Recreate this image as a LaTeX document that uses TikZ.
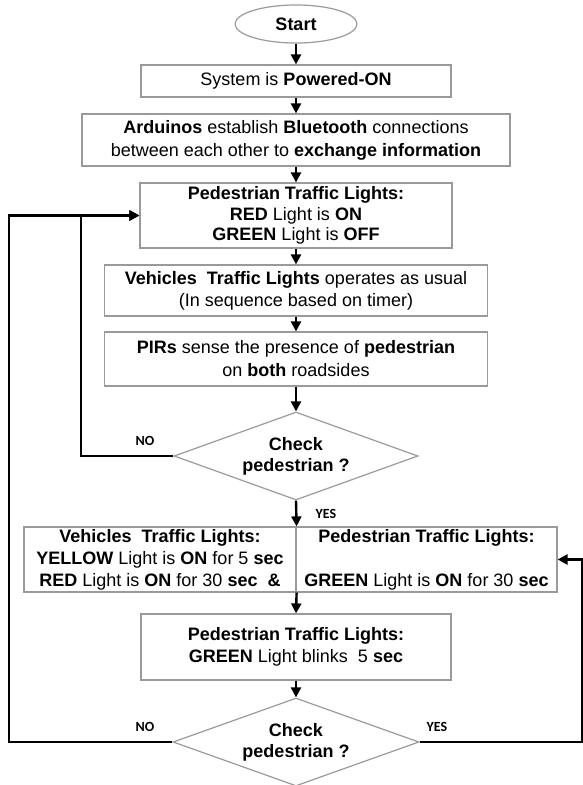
\documentclass[tikz,border=0pt]{standalone}
\usepackage{fontspec}
\setmainfont{Liberation Sans}
\newfontfamily\labfont{Carlito}
\usetikzlibrary{shapes.geometric,arrows.meta}
\definecolor{boxgray}{HTML}{9A9A9A}
\begin{document}
\begin{tikzpicture}[x=1pt,y=-1pt,
  box/.style={draw=boxgray,line width=1.2pt,inner sep=0pt,align=center,font=\fontsize{18}{22}\selectfont},
  flow/.style={line width=2.4pt,-{Triangle[width=10pt,length=10pt]}},
  loopline/.style={line width=2.6pt},
  lab/.style={font=\labfont\bfseries\fontsize{14}{16}\selectfont,inner sep=0pt}]
\useasboundingbox (0,0) rectangle (583,785);

\node[box,ellipse,minimum width=122,minimum height=38] (start) at (296,24) {\textbf{Start}};
\node[box,minimum width=310,minimum height=32] (pow) at (296,81) {System is \textbf{Powered-ON}};
\node[box,minimum width=428,minimum height=52,font=\fontsize{18}{23}\selectfont] (ard) at (296,140)
  {\textbf{Arduinos} establish \textbf{Bluetooth} connections\\between each other to \textbf{exchange information}};
\node[box,minimum width=312,minimum height=65,font=\fontsize{18}{20.5}\selectfont] (ped) at (296,215.5)
  {\textbf{Pedestrian Traffic Lights:}\\\textbf{RED} Light is \textbf{ON}\\\textbf{GREEN} Light is \textbf{OFF}};
\node[box,minimum width=383,minimum height=51] (veh) at (296,290.5)
  {\textbf{Vehicles\ \ Traffic Lights} operates as usual\\(In sequence based on timer)};
\node[box,minimum width=383,minimum height=54,font=\fontsize{18}{23}\selectfont] (pir) at (296,359)
  {\textbf{PIRs} sense the presence of \textbf{pedestrian}\\on \textbf{both} roadsides};
\node[box,diamond,aspect=2.77,minimum width=244,minimum height=88,font=\fontsize{18}{21}\selectfont\bfseries] (d1) at (296,456)
  {Check\\pedestrian ?};
\node[box,minimum width=272,minimum height=65] (cl) at (160,559.5)
  {\textbf{Vehicles\ \ Traffic Lights:}\\\textbf{YELLOW} Light is \textbf{ON} for 5 \textbf{sec}\\\textbf{RED} Light is \textbf{ON} for 30 \textbf{sec\ \ \&}};
\node[box,minimum width=261,minimum height=65] (cr) at (426.5,559.5)
  {\textbf{Pedestrian Traffic Lights:}\\\mbox{}\\\textbf{GREEN} Light is \textbf{ON} for 30 \textbf{sec}};
\node[box,minimum width=310,minimum height=66] (blink) at (296,647)
  {\textbf{Pedestrian Traffic Lights:}\\\textbf{GREEN} Light blinks\ \ 5 \textbf{sec}};
\node[box,diamond,aspect=2.8,minimum width=246,minimum height=88,font=\fontsize{18}{21}\selectfont\bfseries] (d2) at (296,742)
  {Check\\pedestrian ?};

\node[lab] (no1) at (145,441) {NO};
\node[lab] (yes1) at (326,514) {YES};
\node[lab] (no2) at (145,727) {NO};
\node[lab] (yes2) at (437,727) {YES};

\coordinate (lin) at (81,456);
\coordinate (lout) at (9,742);
\coordinate (rout) at (582,742);

\draw[flow] (start) -- (pow);
\draw[flow] (pow) -- (ard);
\draw[flow] (ard) -- (ped);
\draw[flow] (ped) -- (veh);
\draw[flow] (veh) -- (pir);
\draw[flow] (pir) -- (d1);
\draw[flow] (d1.south) -- (cl.north east);
\draw[flow] (cl.south east) -- (blink.north);
\draw[flow] (blink) -- (d2);

\draw[loopline,-{Triangle[width=10pt,length=10pt]}] (d1.west) -- (lin) |- (ped.west);
\draw[loopline,-{Triangle[width=10pt,length=10pt]}] (d2.west) -- (lout) |- (ped.west);
\draw[loopline,-{Triangle[width=10pt,length=10pt]}] (d2.east) -- (rout) |- (cr.east);
\end{tikzpicture}
\end{document}
